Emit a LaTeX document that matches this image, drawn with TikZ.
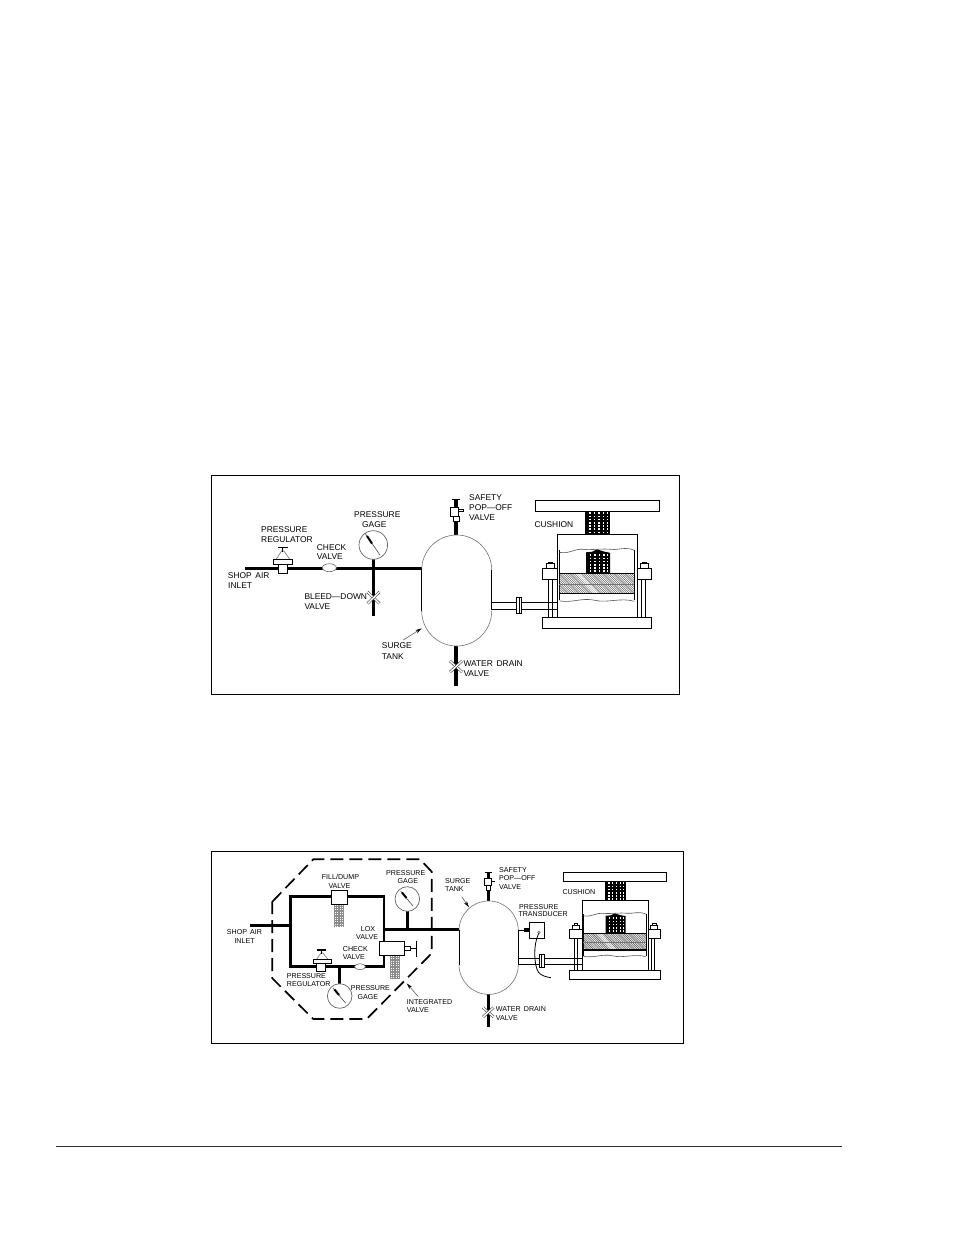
\documentclass[tikz,border=0pt]{standalone}
\usepackage{fontspec}
\setmainfont{Liberation Sans}
\usetikzlibrary{arrows.meta}
\tikzset{
  x=1pt,y=-1pt,
  frame/.style={draw=black,line width=1pt},
  pipe/.style={draw=black,line width=3.4pt},
  thin line/.style={draw=black,line width=.9pt},
  tankarc/.style={draw=black!55,line width=.6pt},
  part/.style={draw=black,fill=white,line width=.9pt},
  gaugeface/.style={draw=black!60,fill=white,line width=.7pt},
  needle/.style={draw=black!70,line width=.6pt},
  needlehead/.style={draw=black,line width=2pt},
  xvalve/.style={draw=black!75,double=white,double distance=1.4pt,line width=.6pt},
  checkv/.style={draw=black!60,fill=white,line width=.6pt},
  conebody/.style={draw=black!55,fill=white,line width=.6pt},
  labA/.style={anchor=west,inner sep=0pt,font=\fontsize{8.4}{9}\selectfont,text=black},
  labB/.style={anchor=west,inner sep=0pt,font=\fontsize{7.1}{8}\selectfont,text=black},
  leader/.style={draw=black!70,line width=.5pt,-{Stealth[length=6.5pt,width=3.4pt,black]}},
  dashedwall/.style={draw=black,line width=1.7pt,dash pattern=on 13pt off 6pt},
  filter/.style={fill=black!45},
  filterdots/.style={draw=white,line width=.8pt,dash pattern=on 1pt off 1.4pt},
  wavy/.style={draw=black!65,line width=.6pt},
  hatchl/.style={draw=black!75,line width=.4pt},
  dots/.style={draw=white,line width=1.1pt,dash pattern=on 1.6pt off 1.6pt},
  cushion/.pic={
    % rods
    \foreach \xx in {-48.7,-44.7,44,48}{\draw[thin line] (\xx,-49.3) -- (\xx,-10.6);}
    % body
    \draw[thin line] (-39.3,-78) -- (-39.3,-94) -- (40.7,-94) -- (40.7,-78);
    \draw[thin line] (-39.3,-78) -- (-39.3,-10.6);
    \draw[thin line] (40.7,-78) -- (40.7,-10.6);
    \draw[thin line] (-37.7,-78) -- (-37.7,-28);
    \draw[thin line] (37.3,-78) -- (37.3,-28);
    % press plates
    \draw[part] (-61.7,-128) rectangle (62.3,-117.3);
    \draw[part] (-54.7,-10.6) rectangle (54.7,0);
    % upper rod
    \fill[black] (-11.7,-117.3) rectangle (13,-94);
    \foreach \xx in {-7,-2.5,2,6.5,10.5}{\draw[dots] (\xx,-116) -- (\xx,-95);}
    % inner rod
    \fill[black] (-11,-76) -- (-5,-76.5) -- (0,-79) -- (6,-77) -- (13,-75.5) -- (13,-55) -- (-11,-55) -- cycle;
    \foreach \xx in {-6.5,-2,2.5,7,10.5}{\draw[dots] (\xx,-74) -- (\xx,-56);}
    % hatched piston
    \begin{scope}
      \clip (-37.7,-55) rectangle (37.3,-35);
      \foreach \k in {-40,-37.8,...,100}{\draw[hatchl] (\k-40,-55) -- (\k-20,-35);}
      \draw[white,opacity=.55,line width=4pt] (-22,-58) -- (2,-32);
    \end{scope}
    \draw[thin line] (-37.7,-55) -- (37.3,-55);
    \draw[draw=black!55,line width=.5pt] (-37.7,-44.3) -- (37.3,-44.3);
    \draw[draw=black,line width=1.2pt] (-37.7,-35) -- (37.3,-35);
    % wavy breaks
    \draw[wavy] (-37.7,-76) .. controls (-28,-74) and (-22,-80) .. (-14,-79) .. controls (-6,-78) and (5,-80) .. (14,-79) .. controls (22,-78) and (28,-82) .. (37.3,-78);
    \draw[wavy] (-37.7,-27.5) .. controls (-25,-25) and (-15,-31) .. (-2,-28) .. controls (10,-25) and (24,-31) .. (37.3,-27);
    % clamps
    \draw[part] (-54.7,-60) rectangle (-39.3,-49.3);
    \draw[part] (40.7,-60) rectangle (54.7,-49.3);
    \draw[part] (-50.3,-64.5) rectangle (-42.5,-60);
    \draw[part] (43,-64.5) rectangle (51.3,-60);
    \draw[part] (-48.5,-66.3) rectangle (-44.3,-64.5);
    \draw[part] (45,-66.3) rectangle (49.3,-64.5);
  }
}
\begin{document}
\begin{tikzpicture}
\useasboundingbox (0,0) rectangle (954,1235);
\fill[white] (0,0) rectangle (954,1235);
% ===== upper panel =====
\draw[frame] (211,475) rectangle (679,694);
% pipes
\draw[pipe] (245,568.3) -- (421.7,568.3);
\draw[pipe] (373.5,559) -- (373.5,615.7);
\draw[pipe] (456,499) -- (456,535);
\draw[pipe] (456,646) -- (456,685.7);
% regulator
\draw[conebody] (276,559.7) -- (281.5,551) -- (284,551) -- (290,559.7) -- cycle;
\draw[part] (278.7,564) rectangle (287.3,573.5);
\draw[part] (273.3,559.7) rectangle (292.7,564.3);
\draw[draw=black,line width=1.4pt] (278,547.7) -- (287.5,547.7);
\draw[draw=black,line width=1.4pt] (282.7,547.7) -- (282.7,552);
% check valve
\draw[checkv] (329.3,567.7) ellipse [x radius=7pt,y radius=4pt];
% gauge
\draw[gaugeface] (373.3,545) circle [radius=14.3pt];
\draw[needle] (365,533.3) -- (380,555);
\draw[needlehead] (367,536) -- (372,543.5);
% bleed down valve
\draw[xvalve] (367.5,592) -- (379.5,603.5);
\draw[xvalve] (379.5,592) -- (367.5,603.5);
% tank
\draw[tankarc] (421.7,570) arc [start angle=180,end angle=0,radius=35pt];
\draw[tankarc] (421.7,611) arc [start angle=180,end angle=360,radius=35pt];
\draw[thin line] (421.7,568) -- (421.7,611);
\draw[thin line] (491.7,570) -- (491.7,610);
% safety valve
\draw[draw=black,line width=1.6pt] (452,499.5) -- (460,499.5);
\draw[part] (453,516) rectangle (459,521);
\draw[part] (450,507) rectangle (458.5,516);
\draw[part] (458.5,509.5) rectangle (463,511.5);
% drain valve
\draw[xvalve] (450,661) -- (462,672);
\draw[xvalve] (462,661) -- (450,672);
% leader
\draw[leader] (403.3,640) -- (421.7,628.3);
% pipe to cushion
\draw[thin line] (491.7,602.3) -- (557.7,602.3);
\draw[thin line] (491.7,609.7) -- (557.7,609.7);
\draw[part] (516.7,597.3) rectangle (521.7,613.3);
\draw[thin line] (519.2,597.3) -- (519.2,613.3);
\pic at (597,628.3) {cushion};
% labels
\node[labA] (a1) at (261,529.3) {PRESSURE};
\node[labA] (a2) at (261,539.3) {REGULATOR};
\node[labA] (a3) at (316.7,547.7) {CHECK};
\node[labA] (a4) at (316.7,556.7) {VALVE};
\node[labA] (a5) at (354,515) {PRESSURE};
\node[labA] (a6) at (362,525) {GAGE};
\node[labA] (a7) at (227.7,576) {SHOP\,\ AIR};
\node[labA] (a8) at (228,585.7) {INLET};
\node[labA] (a9) at (304.3,596.7) {BLEED---DOWN};
\node[labA] (a10) at (304.3,606.7) {VALVE};
\node[labA] (a11) at (381.7,646) {SURGE};
\node[labA] (a12) at (381.7,656.7) {TANK};
\node[labA] (a13) at (469,497.3) {SAFETY};
\node[labA] (a14) at (469,507.3) {POP---OFF};
\node[labA] (a15) at (469,517.3) {VALVE};
\node[labA] (a16) at (534.3,525) {CUSHION};
\node[labA] (a17) at (463.3,663.3) {WATER\,\ DRAIN};
\node[labA] (a18) at (463.3,674) {VALVE};
% ===== lower panel =====
\draw[frame] (211,851.7) rectangle (683.3,1043.3);
\draw[dashedwall] (272.3,901.7) -- (313.3,859.3) -- (420,859.3) -- (431.7,871.7) -- (431.7,953.3) -- (366.7,1019) -- (313.3,1019) -- (272.3,978.3) -- cycle;
% circuit
\draw[pipe] (250,925.3) -- (290.7,925.3);
\draw[draw=black,line width=2.8pt] (290.7,896.7) rectangle (384,966.7);
\draw[pipe,line width=2.6pt] (384,929.7) -- (459,929.7);
\draw[pipe] (407.3,911) -- (407.3,929.7);
\draw[pipe] (339.7,966.7) -- (339.7,985);
\draw[pipe] (488.3,872.3) -- (488.3,901);
\draw[pipe] (488.3,994.3) -- (488.3,1027.3);
% fill/dump
\fill[filter] (334,904) rectangle (344,927.3);
\foreach \xx in {335.5,337.7,339.9,342.1}{\draw[filterdots] (\xx,904.5) -- (\xx,927);}
\draw[part] (331.3,890.7) rectangle (347.7,904);
% lox valve
\fill[filter] (390,955.3) rectangle (400,978.7);
\foreach \xx in {391.5,393.7,395.9,398.1}{\draw[filterdots] (\xx,955.8) -- (\xx,978.4);}
\draw[part] (379.3,941.3) rectangle (404.7,955.3);
\draw[part] (404.7,946.7) rectangle (410,950);
\draw[thin line] (410,948.3) -- (416.7,948.3);
\draw[draw=black,line width=1.2pt] (416.7,940.7) -- (416.7,957.3);
% regulator
\draw[conebody] (316.5,959.5) -- (321,953) -- (323,953) -- (328,959.5) -- cycle;
\draw[part] (316.7,963.3) rectangle (325,971.7);
\draw[part] (313.3,959.5) rectangle (331,963.5);
\draw[draw=black,line width=1.3pt] (317,950) -- (326,950);
\draw[draw=black,line width=1.3pt] (321.7,950) -- (321.7,953.5);
% check valve
\draw[checkv] (360,966.7) ellipse [x radius=5.5pt,y radius=3pt];
% gauges
\draw[gaugeface] (407.3,899) circle [radius=12.3pt];
\draw[needle] (400.5,891) -- (413,906);
\draw[needlehead] (402,892.5) -- (406.5,898);
\draw[gaugeface] (339.7,996) circle [radius=12.3pt];
\draw[needle] (333,988) -- (345.5,1003);
\draw[needlehead] (334.5,989.5) -- (339,995);
% tank
\draw[tankarc] (459,930.6) arc [start angle=180,end angle=0,radius=29.65pt];
\draw[tankarc] (459,964.7) arc [start angle=180,end angle=360,radius=29.65pt];
\draw[thin line] (459,929.7) -- (459,964.7);
\draw[thin line] (518.3,930) -- (518.3,965);
% safety valve
\draw[draw=black,line width=1.4pt] (485,872.3) -- (491.5,872.3);
\draw[part] (486.7,885.7) rectangle (490.7,890.7);
\draw[part] (484,878) rectangle (491.7,885.7);
\draw[draw=black,line width=1.5pt] (491.7,881.5) -- (495,881.5);
% drain valve
\draw[xvalve] (483,1007.5) -- (493.5,1017);
\draw[xvalve] (493.5,1007.5) -- (483,1017);
% pipe to cushion
\draw[thin line] (518.3,958.3) -- (581.7,958.3);
\draw[thin line] (518.3,964) -- (581.7,964);
\draw[part] (539.3,954.3) rectangle (544.3,967.7);
\draw[thin line] (541.8,954.3) -- (541.8,967.7);
% transducer
\draw[thin line] (518.3,930.2) -- (524.3,930.2);
\fill[black] (524.3,928.3) rectangle (529.3,932);
\draw[part] (529.3,922.7) rectangle (544,938.7);
\draw[draw=black!60,line width=.6pt] (539,932.3) circle [radius=1.3pt];
\draw[draw=black,line width=.8pt] (538.6,933.6) .. controls (533,945) and (534,965) .. (538.3,972) .. controls (541,976) and (547,977) .. (551,977.7);
% leaders
\draw[leader] (461.7,896.7) -- (469,907.3);
\draw[leader] (418.3,996.7) -- (406.7,983.3);
\pic[scale=.836] at (614.8,979.3) {cushion};
% labels
\node[labB] (b1) at (321.7,877.3) {FILL/DUMP};
\node[labB] (b2) at (328.3,885.7) {VALVE};
\node[labB] (b3) at (386,872.7) {PRESSURE};
\node[labB] (b4) at (397.3,880.7) {GAGE};
\node[labB] (b5) at (226.7,932.3) {SHOP\,\ AIR};
\node[labB] (b6) at (234.3,940.7) {INLET};
\node[labB] (b7) at (360.7,929.3) {LOX};
\node[labB] (b8) at (356,936.7) {VALVE};
\node[labB] (b9) at (342.7,949.3) {CHECK};
\node[labB] (b10) at (342.7,956.7) {VALVE};
\node[labB] (b11) at (286.7,975.7) {PRESSURE};
\node[labB] (b12) at (286.7,984) {REGULATOR};
\node[labB] (b13) at (350.7,988.3) {PRESSURE};
\node[labB] (b14) at (357.3,997.3) {GAGE};
\node[labB] (b15) at (406.7,1001.7) {INTEGRATED};
\node[labB] (b16) at (406.7,1010) {VALVE};
\node[labB] (b17) at (445,881) {SURGE};
\node[labB] (b18) at (445,888.7) {TANK};
\node[labB] (b19) at (499,870) {SAFETY};
\node[labB] (b20) at (499,878.3) {POP---OFF};
\node[labB] (b21) at (499,886.7) {VALVE};
\node[labB] (b22) at (519,906.7) {PRESSURE};
\node[labB] (b23) at (518.3,914.3) {TRANSDUCER};
\node[labB] (b24) at (562.3,892.3) {CUSHION};
\node[labB] (b25) at (495.7,1009.3) {WATER\,\ DRAIN};
\node[labB] (b26) at (495.7,1018.3) {VALVE};
% footer rule
\draw[draw=black!80,line width=.8pt] (56,1146) -- (842,1146);
\end{tikzpicture}
\end{document}
